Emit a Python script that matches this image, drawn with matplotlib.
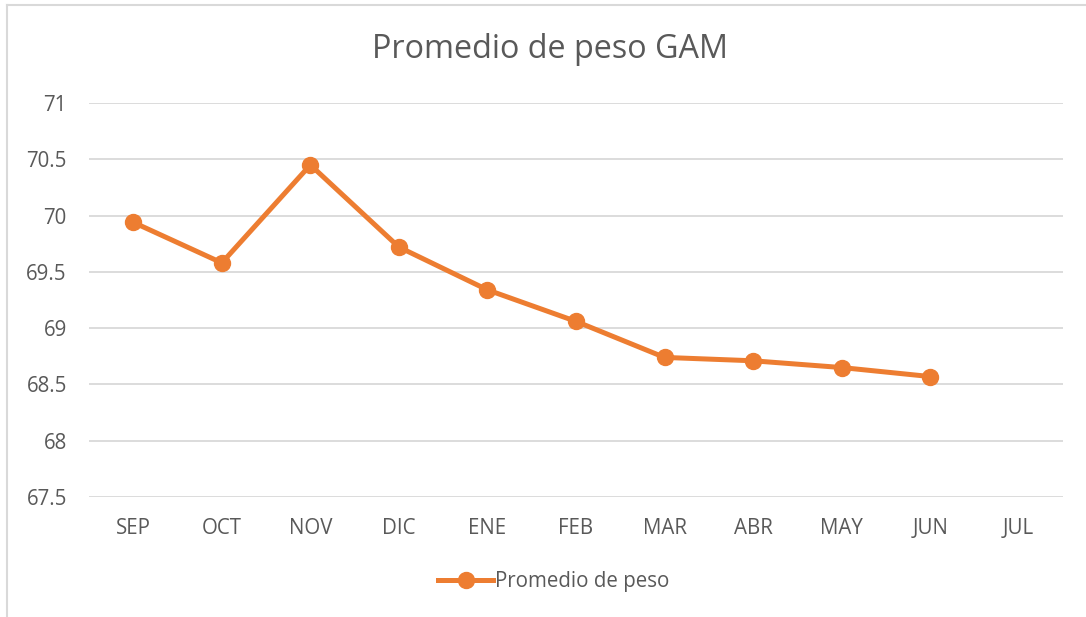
import matplotlib.pyplot as plt
import matplotlib.lines as mlines

# datos del grafico
meses = ['SEP', 'OCT', 'NOV', 'DIC', 'ENE', 'FEB', 'MAR', 'ABR', 'MAY', 'JUN', 'JUL']
meses_con_dato = ['SEP', 'OCT', 'NOV', 'DIC', 'ENE', 'FEB', 'MAR', 'ABR', 'MAY', 'JUN']
peso = [69.94, 69.58, 70.45, 69.72, 69.34, 69.06, 68.74, 68.71, 68.65, 68.57]
ticks_y = [67.5, 68, 68.5, 69, 69.5, 70, 70.5, 71]

naranja = '#ED7D31'
gris = '#595959'
plt.rcParams['font.family'] = ['Open Sans', 'DejaVu Sans']

fig = plt.figure(figsize=(10.86, 6.17), dpi=100)
ax = fig.add_axes([89/1086, 1 - 497/617, (1063 - 89)/1086, (497 - 103)/617])

pos = [meses.index(m) for m in meses_con_dato]
ax.plot(pos, peso, color=naranja, linewidth=3.6, marker='o', markersize=11.5,
        solid_capstyle='round', zorder=3)

ax.set_xlim(-0.5, len(meses) - 0.5)
ax.set_ylim(67.5, 71)
ax.set_xticks(range(len(meses)))
ax.set_xticklabels(meses)
ax.set_yticks(ticks_y)
ax.set_yticklabels([('%g' % v) for v in ticks_y])
ax.tick_params(axis='both', length=0, labelsize=14.8, labelcolor=gris)
ax.tick_params(axis='x', pad=15)
ax.tick_params(axis='y', pad=16)
ax.grid(axis='y', color='#D9D9D9', linewidth=1.3)
ax.set_axisbelow(True)
for s in ax.spines.values():
    s.set_visible(False)

fig.text(0.506, 1 - 49/617, 'Promedio de peso GAM', ha='center', va='center',
         fontsize=23.3, color=gris)

# leyenda
muestra = mlines.Line2D([], [], color=naranja, linewidth=3.6, marker='o', markersize=11.5)
fig.legend([muestra], ['Promedio de peso'], loc='center', bbox_to_anchor=(0.51, 1 - 582/617),
           frameon=False, fontsize=14.8, labelcolor=gris, handlelength=2.7, handletextpad=0.1)

# marco del grafico
fig.add_artist(mlines.Line2D([7/1086, 7/1086], [0, 1 - 5/617], color='#D9D9D9', linewidth=1.5,
                             transform=fig.transFigure))
fig.add_artist(mlines.Line2D([7/1086, 1], [1 - 5/617, 1 - 5/617], color='#D9D9D9', linewidth=1.5,
                             transform=fig.transFigure))

fig.savefig('out.png', dpi=100)
